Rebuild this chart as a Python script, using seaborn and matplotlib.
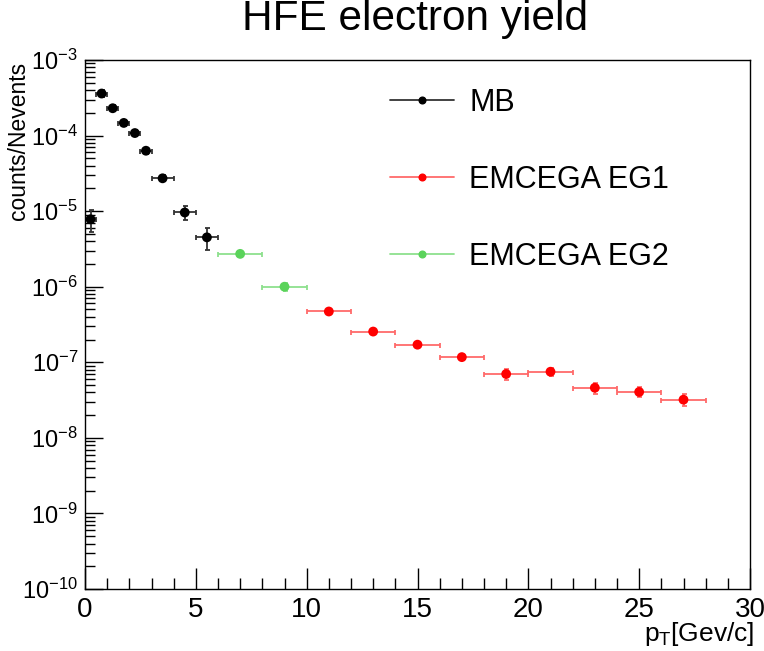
import numpy as np
import pandas as pd
import matplotlib
matplotlib.use("Agg")
import matplotlib.pyplot as plt
from matplotlib.lines import Line2D
from matplotlib.ticker import LogLocator, MultipleLocator
import seaborn as sns

# HFE electron yield per trigger class
mb_pt = [0.25, 0.75, 1.25, 1.75, 2.25, 2.75, 3.5, 4.5, 5.5]
mb_pt_err = [0.25, 0.25, 0.25, 0.25, 0.25, 0.25, 0.5, 0.5, 0.5]
mb_yield = [7.8e-6, 3.6e-4, 2.3e-4, 1.47e-4, 1.08e-4, 6.3e-5, 2.72e-5, 9.6e-6, 4.5e-6]
mb_yield_err = [2.5e-6, 3.5e-5, 2.0e-5, 1.2e-5, 9e-6, 6e-6, 2.5e-6, 2.0e-6, 1.4e-6]

eg1_pt = [11, 13, 15, 17, 19, 21, 23, 25, 27]
eg1_pt_err = [1, 1, 1, 1, 1, 1, 1, 1, 1]
eg1_yield = [4.7e-7, 2.55e-7, 1.71e-7, 1.17e-7, 7.0e-8, 7.5e-8, 4.6e-8, 4.05e-8, 3.2e-8]
eg1_yield_err = [2.5e-8, 1.5e-8, 1.1e-8, 8e-9, 1.1e-8, 9e-9, 8e-9, 6e-9, 6e-9]

eg2_pt = [7, 9]
eg2_pt_err = [1, 1]
eg2_yield = [2.72e-6, 1.0e-6]
eg2_yield_err = [1.5e-7, 1.2e-7]

labels = ["MB", "EMCEGA EG1", "EMCEGA EG2"]
marker_colors = {"MB": "#000000", "EMCEGA EG1": "#ff0000", "EMCEGA EG2": "#5ad35a"}
bar_colors = {"MB": "#333333", "EMCEGA EG1": "#ff6a6a", "EMCEGA EG2": "#8ee08e"}

frames = []
for name, x, xe, y, ye in [
    ("MB", mb_pt, mb_pt_err, mb_yield, mb_yield_err),
    ("EMCEGA EG1", eg1_pt, eg1_pt_err, eg1_yield, eg1_yield_err),
    ("EMCEGA EG2", eg2_pt, eg2_pt_err, eg2_yield, eg2_yield_err),
]:
    frames.append(pd.DataFrame({"pt": x, "pt_err": xe, "yield": y,
                                "yield_err": ye, "trigger": name}))
df = pd.concat(frames, ignore_index=True)

sns.set_style("ticks")
plt.rcParams["font.family"] = ["Liberation Sans", "DejaVu Sans"]
plt.rcParams["mathtext.fontset"] = "custom"
plt.rcParams["mathtext.rm"] = "Liberation Sans"
plt.rcParams["mathtext.it"] = "Liberation Sans"
for key in ["text.color", "axes.labelcolor", "xtick.color", "ytick.color"]:
    plt.rcParams[key] = "black"

fig = plt.figure(figsize=(7.64, 6.51), dpi=100)
ax = fig.add_axes([85 / 764, 1 - 589 / 651, 665 / 764, 529 / 651])

# error bars first, then markers on top
for name in labels:
    sub = df[df["trigger"] == name]
    ax.errorbar(sub["pt"], sub["yield"], xerr=sub["pt_err"], yerr=sub["yield_err"],
                fmt="none", ecolor=bar_colors[name], elinewidth=1.3,
                capsize=1.8, capthick=1.3, zorder=2)

sns.scatterplot(data=df, x="pt", y="yield", hue="trigger", hue_order=labels,
                palette=marker_colors, s=50, edgecolor="none", legend=False,
                ax=ax, zorder=3)

ax.set_yscale("log")
ax.set_xlim(0, 30)
ax.set_ylim(1e-10, 1e-3)

ax.xaxis.set_major_locator(MultipleLocator(5))
ax.xaxis.set_minor_locator(MultipleLocator(1))
ax.yaxis.set_major_locator(LogLocator(base=10, numticks=20))
ax.yaxis.set_minor_locator(LogLocator(base=10, subs=np.arange(2, 10), numticks=20))

ax.tick_params(axis="both", which="both", direction="in", top=False, right=False,
               color="black", labelcolor="black", width=1.0)
ax.tick_params(axis="x", which="major", length=15, labelsize=20, pad=6)
ax.tick_params(axis="x", which="minor", length=8)
ax.tick_params(axis="y", which="major", length=13, labelsize=17, pad=5)
ax.tick_params(axis="y", which="minor", length=7)

for side in ["left", "bottom", "top", "right"]:
    ax.spines[side].set_visible(True)
    ax.spines[side].set_color("black")
    ax.spines[side].set_linewidth(1.0)

ax.set_xlabel(r"$p_{T}$[Gev/c]", fontsize=19, loc="right", color="black")
ax.xaxis.set_label_coords(1.006, -0.058)
ax.set_ylabel("counts/Nevents", fontsize=16.5, loc="top", color="black")
ax.yaxis.set_label_coords(-0.083, 0.997)
fig.text(415 / 764, 1 - 30 / 651, "HFE electron yield", ha="center", va="baseline",
         fontsize=30.5, color="black")

handles = [Line2D([0], [0], color=bar_colors[n], lw=1.3, marker="o", markersize=4.8,
                  markerfacecolor=marker_colors[n], markeredgecolor=marker_colors[n])
           for n in labels]
leg = ax.legend(handles, labels, loc="upper left", bbox_to_anchor=(390 / 764, 1 - 88 / 651),
                bbox_transform=fig.transFigure, frameon=False, fontsize=22,
                handlelength=2.1, handletextpad=0.5, labelspacing=1.54, borderpad=0,
                borderaxespad=0)
for t in leg.get_texts():
    t.set_color("black")

fig.savefig("out.png", dpi=100)
